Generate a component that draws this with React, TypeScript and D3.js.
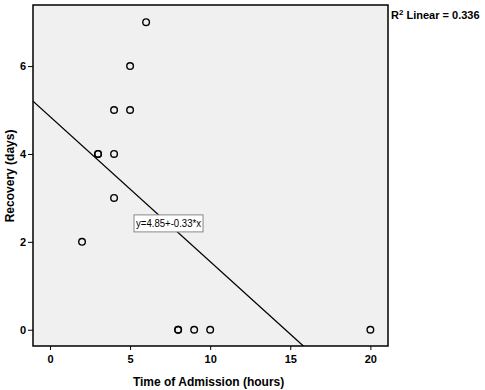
import React, { useEffect, useRef } from 'react';
import * as d3 from 'd3';

// Time of admission (hours) vs recovery (days)
const admissionHours = [2, 3, 3, 4, 4, 4, 5, 5, 6, 8, 8, 9, 10, 20];
const recoveryDays = [2, 4, 4, 4, 3, 5, 5, 6, 7, 0, 0, 0, 0, 0];
const xTicks = [0, 5, 10, 15, 20];
const yTicks = [0, 2, 4, 6];
const intercept = 4.85;
const slope = -0.33;
const fitLabel = 'y=4.85+-0.33*x';
const r2Value = '0.336';

const W = 485;
const H = 390;
const margin = { top: 5, right: 97, bottom: 44, left: 33 };

const App = () => {
  const svgRef = useRef<SVGSVGElement>(null);

  useEffect(() => {
    const svg = d3.select(svgRef.current);
    svg.selectAll('*').remove();

    const innerW = W - margin.left - margin.right;
    const innerH = H - margin.top - margin.bottom;

    const x = d3.scaleLinear().domain([-1.06, 21.1]).range([0, innerW]);
    const y = d3.scaleLinear().domain([-0.37, 7.39]).range([innerH, 0]);

    const g = svg
      .append('g')
      .attr('transform', `translate(${margin.left},${margin.top})`);

    g.append('rect')
      .attr('width', innerW)
      .attr('height', innerH)
      .attr('fill', '#f0f0f0');

    // x axis
    const xAxis = g
      .append('g')
      .attr('transform', `translate(0,${innerH})`)
      .call(d3.axisBottom(x).tickValues(xTicks).tickSize(4).tickSizeOuter(0).tickPadding(5));
    xAxis.select('.domain').remove();

    // y axis
    const yAxis = g
      .append('g')
      .call(d3.axisLeft(y).tickValues(yTicks).tickSize(5).tickSizeOuter(0).tickPadding(2));
    yAxis.select('.domain').remove();

    svg.selectAll('.tick text')
      .attr('font-family', '"Liberation Sans", Arial, sans-serif')
      .attr('font-size', 11)
      .attr('font-weight', 'bold')
      .attr('fill', '#000');
    svg.selectAll('.tick line').attr('stroke', '#000');

    // fit line clipped to plot
    g.append('clipPath')
      .attr('id', 'plotClip')
      .append('rect')
      .attr('width', innerW)
      .attr('height', innerH);

    const [x0, x1] = x.domain();
    const fit = [x0, x1].map((v) => [v, intercept + slope * v]);
    g.append('path')
      .attr('clip-path', 'url(#plotClip)')
      .attr('d', d3.line()(fit.map(([a, b]) => [x(a), y(b)]) as [number, number][]))
      .attr('stroke', '#000')
      .attr('stroke-width', 1.3)
      .attr('fill', 'none');

    // points
    g.selectAll('.pt')
      .data(admissionHours.map((h, i) => ({ h, r: recoveryDays[i] })))
      .enter()
      .append('circle')
      .attr('class', 'pt')
      .attr('cx', (d) => x(d.h))
      .attr('cy', (d) => y(d.r))
      .attr('r', 3.3)
      .attr('fill', 'none')
      .attr('stroke', '#000')
      .attr('stroke-width', 1.4);

    // equation label
    const lx = x(7.4);
    const ly = y(2.42);
    g.append('rect')
      .attr('x', lx - 34.5)
      .attr('y', ly - 8.5)
      .attr('width', 69)
      .attr('height', 17)
      .attr('fill', '#fff')
      .attr('stroke', '#888');
    g.append('text')
      .attr('x', lx)
      .attr('y', ly + 4)
      .attr('text-anchor', 'middle')
      .attr('textLength', 65)
      .attr('lengthAdjust', 'spacingAndGlyphs')
      .attr('font-family', '"Liberation Sans", Arial, sans-serif')
      .attr('font-size', 11)
      .attr('fill', '#000')
      .text(fitLabel);

    // border
    g.append('rect')
      .attr('width', innerW)
      .attr('height', innerH)
      .attr('fill', 'none')
      .attr('stroke', '#000')
      .attr('stroke-width', 1.5);

    // R² annotation
    const r2 = svg
      .append('text')
      .attr('x', margin.left + innerW + 3)
      .attr('y', 19)
      .attr('font-family', '"Liberation Sans", Arial, sans-serif')
      .attr('font-size', 11)
      .attr('font-weight', 'bold')
      .attr('fill', '#000');
    r2.append('tspan').text('R');
    r2.append('tspan').attr('dy', -4).attr('font-size', 8).text('2');
    r2.append('tspan').attr('dy', 4).text(` Linear = ${r2Value}`);

    // axis titles
    svg.append('text')
      .attr('x', margin.left + x(9.9))
      .attr('y', 386)
      .attr('text-anchor', 'middle')
      .attr('font-family', '"Liberation Sans", Arial, sans-serif')
      .attr('font-size', 12)
      .attr('font-weight', 'bold')
      .text('Time of Admission (hours)');

    svg.append('text')
      .attr('transform', `translate(14,${margin.top + y(3.5)}) rotate(-90)`)
      .attr('text-anchor', 'middle')
      .attr('font-family', '"Liberation Sans", Arial, sans-serif')
      .attr('font-size', 12)
      .attr('font-weight', 'bold')
      .text('Recovery (days)');
  }, []);

  return (
    <svg
      ref={svgRef}
      width={W}
      height={H}
      style={{ position: 'absolute', left: 0, top: 0, background: '#fff' }}
    />
  );
};

export default App;
